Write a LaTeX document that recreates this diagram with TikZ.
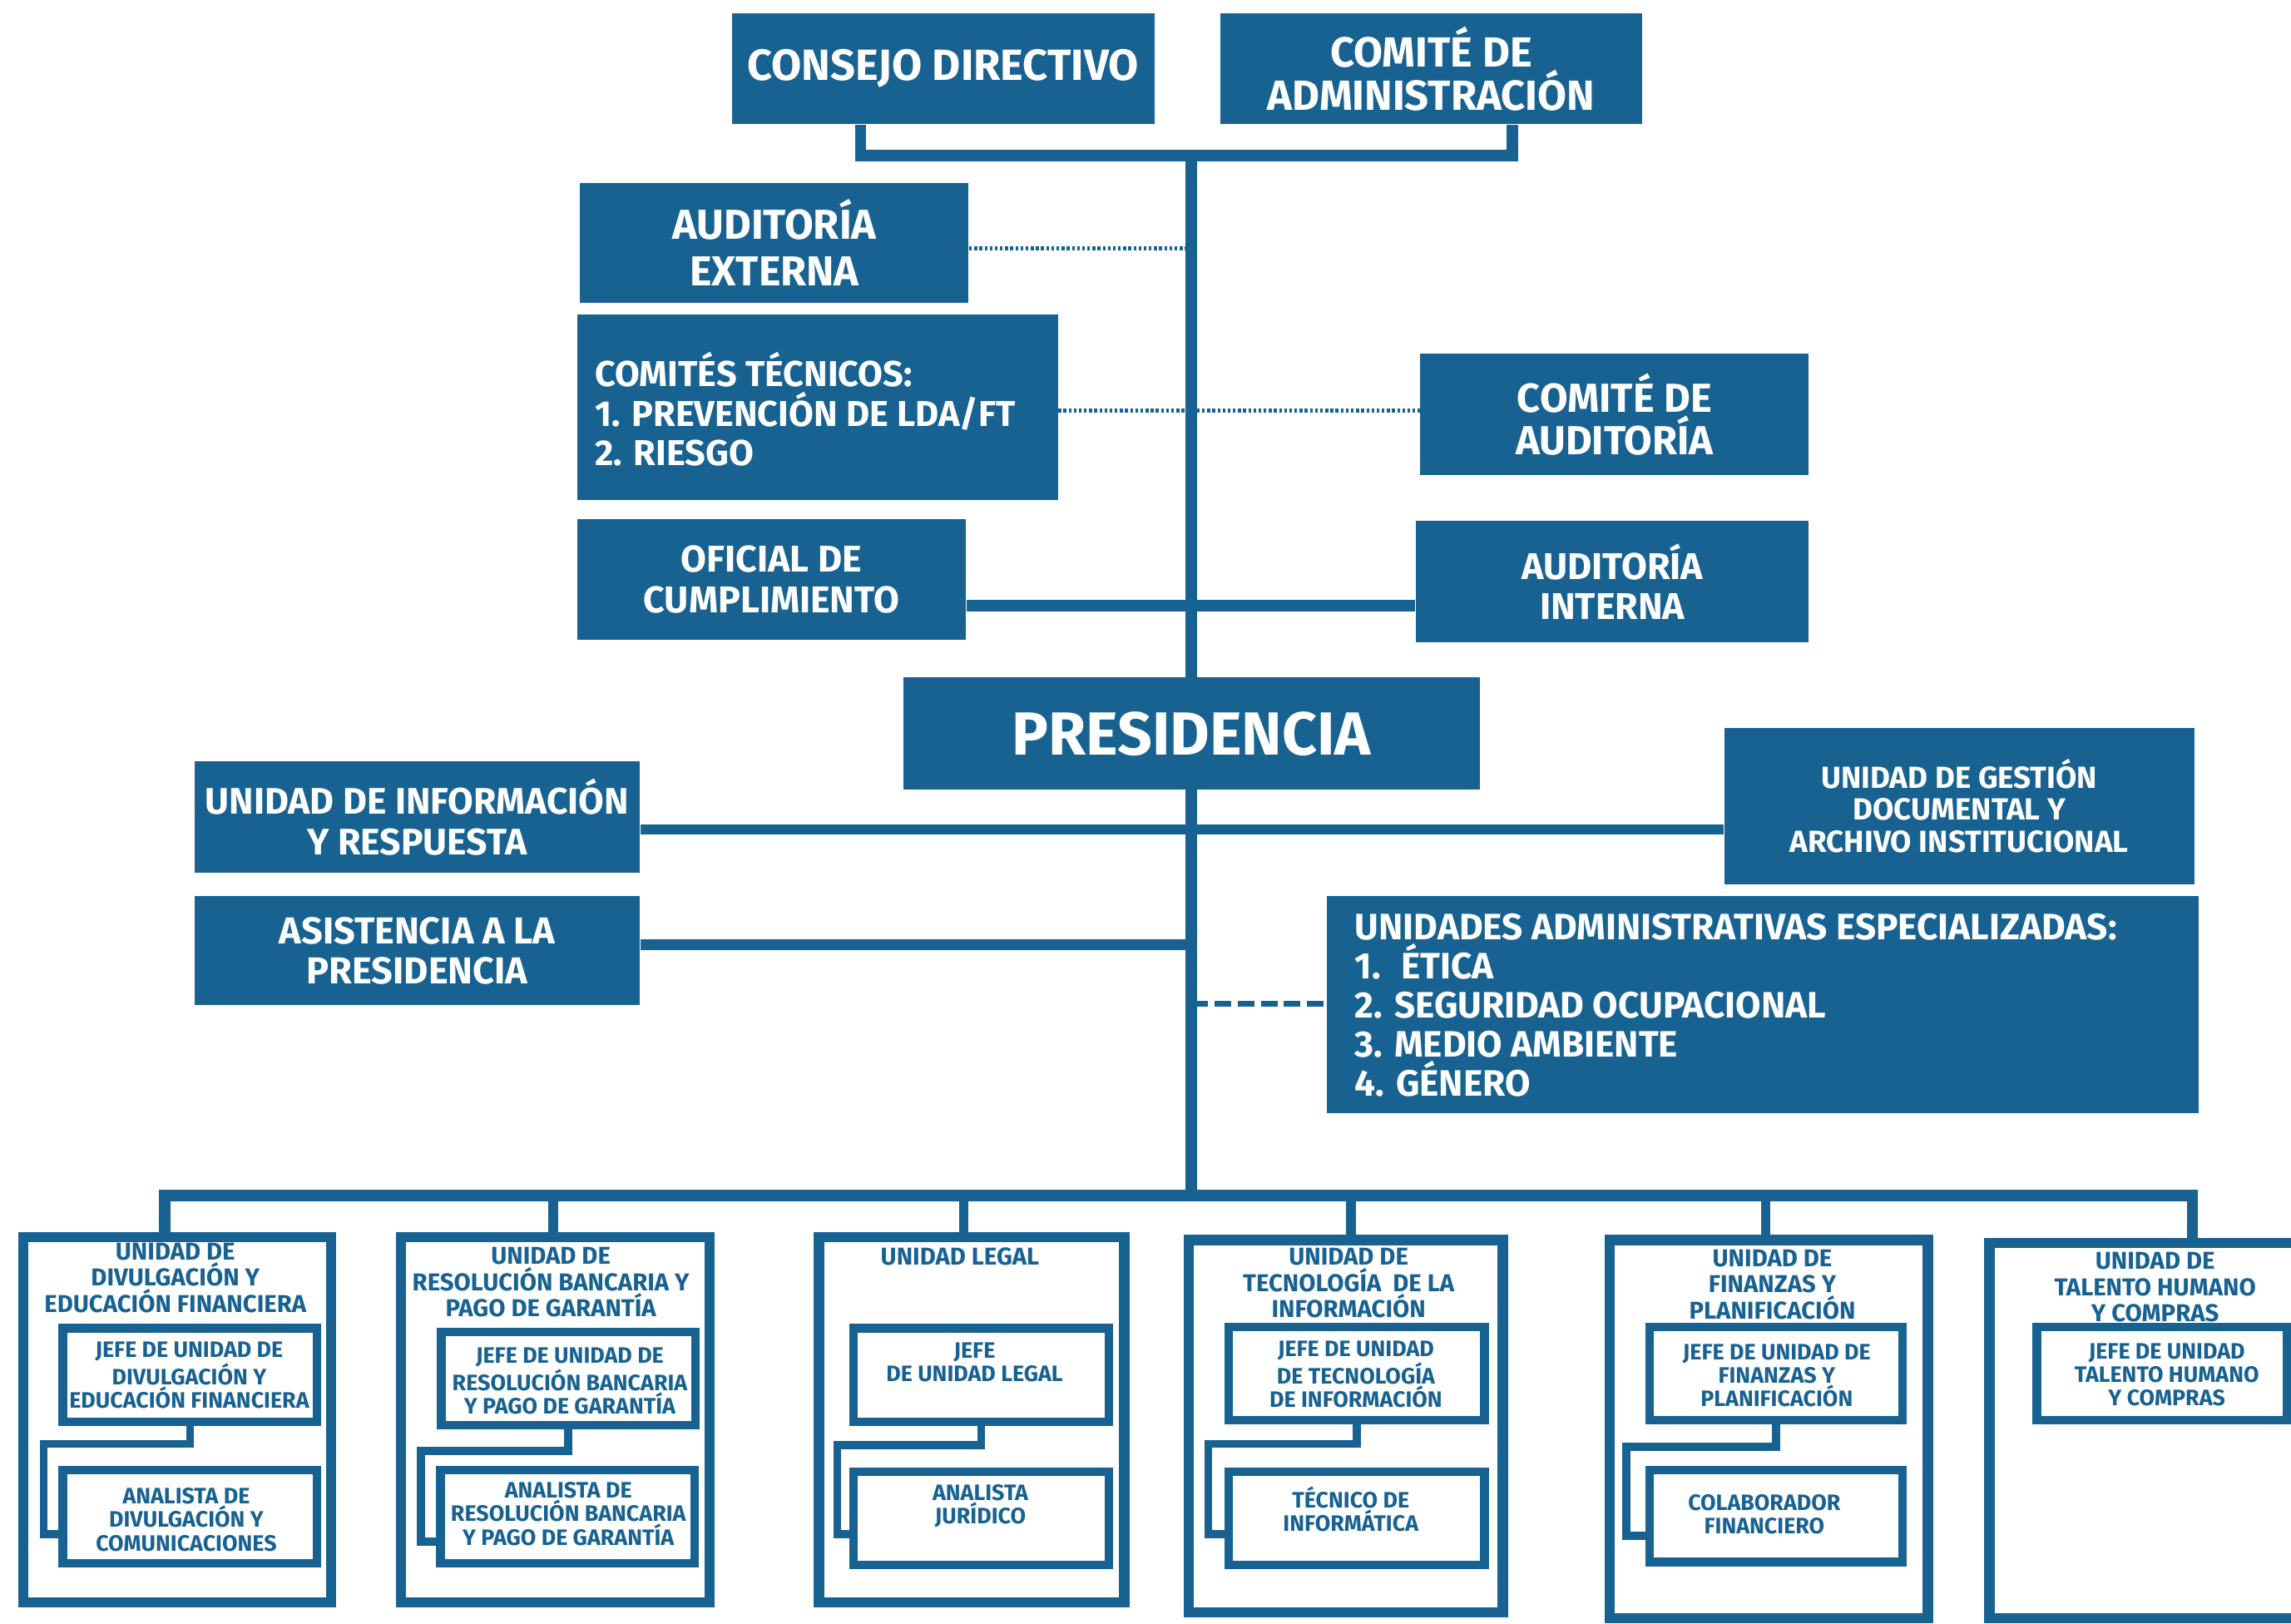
\documentclass[tikz,border=0pt]{standalone}
\usepackage{fontspec}
\setmainfont{Fira Sans}
\usetikzlibrary{backgrounds}
\definecolor{ob}{RGB}{24,98,146}
\newcommand{\fsz}[2]{\fontsize{#1}{#2}\selectfont}
\begin{document}
\begin{tikzpicture}[x=0.02cm,y=-0.02cm,
  bluebox/.style={fill=ob, draw=none, text=white, align=center, inner sep=0pt},
  unitbox/.style={draw=ob, line width=4pt, inner sep=0pt},
  subbox/.style={draw=ob, line width=3.3pt, inner sep=0pt, minimum width=3.48cm, minimum height=1.28cm},
  unittitle/.style={text=ob, align=center, inner sep=0pt, font=\bfseries\fsz{9.5}{10.2}},
  subtext/.style={text=ob, align=center, inner sep=0pt, font=\bfseries\fsz{8.7}{9.1}},
  mainline/.style={draw=ob, line width=4.5pt},
  dropline/.style={draw=ob, line width=3.7pt},
  subline/.style={draw=ob, line width=3.1pt},
  dotline/.style={draw=ob, line width=1.4pt, dash pattern=on 1.1pt off 0.9pt},
  dashline/.style={draw=ob, line width=2.2pt, dash pattern=on 6.5pt off 2.5pt}]
\useasboundingbox (0,0) rectangle (1568,1111);

% ---------- top blue boxes ----------
\node[bluebox, minimum width=5.78cm, minimum height=1.52cm, font=\bfseries\fsz{17}{17}] (consejo) at (645.5,47) {CONSEJO DIRECTIVO};
\node[bluebox, minimum width=5.78cm, minimum height=1.52cm, font=\bfseries\fsz{16.4}{17}] (comadm) at (979.5,47) {COMITÉ DE\\ADMINISTRACIÓN};
\node[bluebox, minimum width=5.32cm, minimum height=1.64cm, font=\bfseries\fsz{16.3}{18}] (audext) at (530,166) {AUDITORÍA\\EXTERNA};
\node[bluebox, minimum width=6.58cm, minimum height=2.54cm] (comtec) at (559.5,278.5) {};
\node[text=white, align=left, anchor=west, inner sep=0pt, font=\bfseries\fsz{14}{15.3}] (comtectxt) at (407,280) {COMITÉS TÉCNICOS:\\1. PREVENCIÓN DE LDA/FT\\2. RIESGO};
\node[bluebox, minimum width=5.32cm, minimum height=1.66cm, font=\bfseries\fsz{15.8}{16.4}] (comaud) at (1105,283.5) {COMITÉ DE\\AUDITORÍA};
\node[bluebox, minimum width=5.32cm, minimum height=1.66cm, font=\bfseries\fsz{14.5}{15.9}] (oficial) at (528,396.5) {OFICIAL DE\\CUMPLIMIENTO};
\node[bluebox, minimum width=5.38cm, minimum height=1.66cm, font=\bfseries\fsz{14.5}{15.3}] (audint) at (1103.5,398) {AUDITORÍA\\INTERNA};
\node[bluebox, minimum width=7.9cm, minimum height=1.54cm, font=\bfseries\fsz{23.7}{25}] (pres) at (815.5,502) {PRESIDENCIA};
\node[bluebox, minimum width=6.1cm, minimum height=1.52cm, font=\bfseries\fsz{14.4}{15.9}] (uinfo) at (285.5,559) {UNIDAD DE INFORMACIÓN\\Y RESPUESTA};
\node[bluebox, minimum width=6.44cm, minimum height=2.14cm, font=\bfseries\fsz{11.9}{12.5}] (ugest) at (1341,551.5) {UNIDAD DE GESTIÓN\\DOCUMENTAL Y\\ARCHIVO INSTITUCIONAL};
\node[bluebox, minimum width=6.1cm, minimum height=1.5cm, font=\bfseries\fsz{14.6}{15.5}] (asist) at (285.5,650.5) {ASISTENCIA A LA\\PRESIDENCIA};
\node[bluebox, minimum width=11.94cm, minimum height=2.98cm] (uae) at (1206.5,687.5) {};
\node[text=white, align=left, anchor=west, inner sep=0pt, font=\bfseries\fsz{14.3}{15.2}] (uaetxt) at (927,688) {UNIDADES ADMINISTRATIVAS ESPECIALIZADAS:\\1.~ ÉTICA\\2. SEGURIDAD OCUPACIONAL\\3. MEDIO AMBIENTE\\4. GÉNERO};

% ---------- bottom unit boxes ----------
\node[unitbox, minimum width=4.21cm, minimum height=5.0cm] (u1) at (121.25,971.5) {};
\node[unitbox, minimum width=4.22cm, minimum height=5.0cm] (u2) at (380,971.5) {};
\node[unitbox, minimum width=4.18cm, minimum height=5.0cm] (u3) at (665,971.5) {};
\node[unitbox, minimum width=4.3cm, minimum height=5.1cm] (u4) at (921,976) {};
\node[unitbox, minimum width=4.36cm, minimum height=5.18cm] (u5) at (1210.5,978) {};
\node[unitbox, minimum width=4.37cm, minimum height=5.14cm] (u6) at (1470.75,979) {};

\node[unittitle] (t1) at (120,874.5) {UNIDAD DE\\DIVULGACIÓN Y\\EDUCACIÓN FINANCIERA};
\node[unittitle] (t2) at (377,877.5) {UNIDAD DE\\RESOLUCIÓN BANCARIA Y\\PAGO DE GARANTÍA};
\node[unittitle] (t3) at (657,860) {UNIDAD LEGAL};
\node[unittitle] (t4) at (923,878) {UNIDAD DE\\TECNOLOGÍA~ DE LA\\INFORMACIÓN};
\node[unittitle] (t5) at (1213,879) {UNIDAD DE\\FINANZAS Y\\PLANIFICACIÓN};
\node[unittitle] (t6) at (1475,881) {UNIDAD DE\\TALENTO HUMANO\\Y COMPRAS};

% inner boxes
\node[subbox] (j1) at (130,941) {};
\node[subbox] (a1) at (130,1038) {};
\node[subbox] (j2) at (389,943.5) {};
\node[subbox] (a2) at (388.5,1038) {};
\node[subbox, minimum width=3.5cm] (j3) at (671.5,941) {};
\node[subbox, minimum width=3.5cm] (a3) at (671.5,1039) {};
\node[subbox, minimum width=3.5cm] (j4) at (928.5,940) {};
\node[subbox, minimum width=3.5cm] (a4) at (928.5,1039) {};
\node[subbox, minimum width=3.46cm] (j5) at (1215.5,940) {};
\node[subbox, minimum width=3.46cm, minimum height=1.26cm] (a5) at (1215.5,1037.5) {};
\node[subbox, minimum width=3.42cm] (j6) at (1479.5,940) {};

\node[subtext] (jt1) at (129.5,941) {JEFE DE UNIDAD DE\\DIVULGACIÓN Y\\EDUCACIÓN FINANCIERA};
\node[subtext] (at1) at (127.5,1040) {ANALISTA DE\\DIVULGACIÓN Y\\COMUNICACIONES};
\node[subtext] (jt2) at (390,945) {JEFE DE UNIDAD DE\\RESOLUCIÓN BANCARIA\\Y PAGO DE GARANTÍA};
\node[subtext] (at2) at (389,1036) {ANALISTA DE\\RESOLUCIÓN BANCARIA\\Y PAGO DE GARANTÍA};
\node[subtext] (jt3) at (667,932.5) {JEFE\\DE UNIDAD LEGAL};
\node[subtext] (at3) at (671,1030.5) {ANALISTA\\JURÍDICO};
\node[subtext] (jt4) at (928,940.5) {JEFE DE UNIDAD\\DE TECNOLOGÍA\\DE INFORMACIÓN};
\node[subtext] (at4) at (924.5,1032.5) {TÉCNICO DE\\INFORMÁTICA};
\node[subtext] (jt5) at (1216,941.5) {JEFE DE UNIDAD DE\\FINANZAS Y\\PLANIFICACIÓN};
\node[subtext] (at5) at (1207.5,1036.5) {COLABORADOR\\FINANCIERO};
\node[subtext] (jt6) at (1483,941) {JEFE DE UNIDAD\\TALENTO HUMANO\\Y COMPRAS};

% ---------- connectors ----------
\coordinate (brL) at (589,106.5);
\coordinate (brR) at (1035,106.5);
\coordinate (brM) at (815.5,106.5);
\coordinate (barM) at (815.5,818);
\coordinate (yAE) at (0,170);
\coordinate (yCT) at (0,281);
\coordinate (yOF) at (0,414.5);
\coordinate (yUI) at (0,567.5);
\coordinate (yAS) at (0,646.5);
\coordinate (yUA) at (0,687);
\coordinate (d1) at (112.5,818);
\coordinate (d2) at (378.5,818);
\coordinate (d3) at (659.5,818);
\coordinate (d4) at (924.5,818);
\coordinate (d5) at (1208.5,818);
\coordinate (d6) at (1500.5,818);
\coordinate (k1) at (30,988);   \coordinate (m1) at (30,1050);
\coordinate (k2) at (288,993);  \coordinate (m2) at (288,1055);
\coordinate (k3) at (573,989);  \coordinate (m3) at (573,1050);
\coordinate (k4) at (827,988);  \coordinate (m4) at (827,1050);
\coordinate (k5) at (1113,990); \coordinate (m5) at (1113,1051);

\begin{scope}[on background layer]
\fill[white] (0,0) rectangle (1568,1111);
\draw[mainline] (consejo.south -| brL) -- (brL) -- (brR) -- (comadm.south -| brR);
\draw[mainline] (brM) -- (barM);
\draw[dotline] (audext.east |- yAE) -- (brM |- yAE);
\draw[dotline] (comtec.east |- yCT) -- (comaud.west |- yCT);
\draw[mainline] (oficial.east |- yOF) -- (audint.west |- yOF);
\draw[mainline, line width=4pt] (uinfo.east |- yUI) -- (ugest.west |- yUI);
\draw[mainline, line width=4pt] (asist.east |- yAS) -- (brM |- yAS);
\draw[dashline] (brM |- yUA) -- (uae.west |- yUA);
\draw[mainline] (d1 |- u1.north) -- (d1) -- (d6) -- (d6 |- u6.north);
\draw[dropline] (d2) -- (d2 |- u2.north);
\draw[dropline] (d3) -- (d3 |- u3.north);
\draw[dropline] (d4) -- (d4 |- u4.north);
\draw[dropline] (d5) -- (d5 |- u5.north);
\draw[subline] (j1.south) |- (k1) -- (m1) -- (a1.west |- m1);
\draw[subline] (j2.south) |- (k2) -- (m2) -- (a2.west |- m2);
\draw[subline] (j3.south) |- (k3) -- (m3) -- (a3.west |- m3);
\draw[subline] (j4.south) |- (k4) -- (m4) -- (a4.west |- m4);
\draw[subline] (j5.south) |- (k5) -- (m5) -- (a5.west |- m5);
\end{scope}
\end{tikzpicture}
\end{document}
